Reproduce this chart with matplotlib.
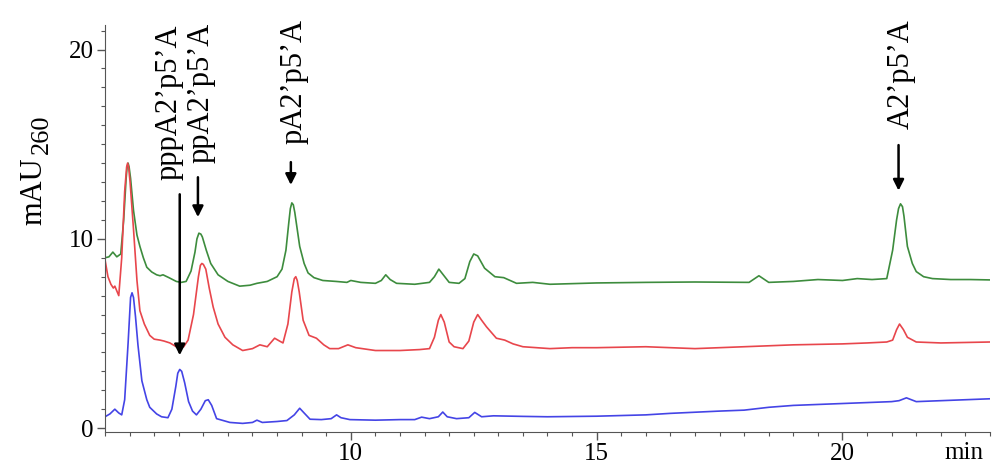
import matplotlib.pyplot as plt
from matplotlib.ticker import MultipleLocator

plt.rcParams['font.family'] = ['Liberation Serif', 'DejaVu Serif']

# (1) Traces (time in min, absorbance in mAU):

t_green = [5.0, 5.08, 5.16, 5.24, 5.32, 5.38, 5.43, 5.45, 5.47, 5.49, 5.52, 5.58, 5.65, 5.71,
           5.78, 5.85, 5.95, 6.05, 6.12, 6.18, 6.3, 6.45, 6.55, 6.65, 6.75, 6.83, 6.87, 6.91,
           6.95, 6.98, 7.06, 7.15, 7.3, 7.5, 7.74, 7.95, 8.09, 8.3, 8.5, 8.6, 8.68, 8.74, 8.77,
           8.8, 8.83, 8.86, 8.96, 9.05, 9.13, 9.25, 9.43, 9.7, 9.92, 10.0, 10.2, 10.5, 10.62,
           10.71, 10.8, 10.93, 11.3, 11.6, 11.7, 11.79, 11.88, 12.0, 12.2, 12.32, 12.42, 12.5,
           12.58, 12.72, 12.93, 13.11, 13.37, 13.7, 14.05, 15.0, 16.0, 17.0, 18.1, 18.3, 18.5,
           19.0, 19.5, 20.0, 20.3, 20.6, 20.9, 21.02, 21.1, 21.14, 21.18, 21.22, 21.25, 21.32,
           21.42, 21.5, 21.65, 21.83, 22.2, 22.6, 23.0]
y_green = [9.0, 9.05, 9.3, 9.05, 9.2, 11.0, 13.2, 13.8, 14.0, 13.8, 13.2, 11.5, 10.2, 9.6,
           9.0, 8.5, 8.25, 8.1, 8.05, 8.1, 7.95, 7.75, 7.7, 7.75, 8.3, 9.3, 10.0, 10.3,
           10.25, 10.1, 9.4, 8.7, 8.1, 7.75, 7.5, 7.55, 7.65, 7.75, 8.0, 8.4, 9.4, 10.9, 11.6,
           11.9, 11.8, 11.4, 9.6, 8.7, 8.2, 7.95, 7.8, 7.75, 7.7, 7.8, 7.7, 7.65, 7.8,
           8.1, 7.85, 7.65, 7.6, 7.7, 8.0, 8.4, 8.1, 7.7, 7.65, 7.9, 8.8, 9.2,
           9.1, 8.45, 8.0, 7.95, 7.65, 7.7, 7.6, 7.67, 7.7, 7.72, 7.7, 8.05, 7.7,
           7.75, 7.85, 7.8, 7.9, 7.85, 7.9, 9.4, 11.0, 11.6, 11.85, 11.7, 11.2, 9.6,
           8.7, 8.27, 8.0, 7.9, 7.85, 7.85, 7.83]

t_red = [5.0, 5.06, 5.12, 5.17, 5.2, 5.28, 5.34, 5.4, 5.44, 5.46, 5.48, 5.51, 5.58, 5.65, 5.71,
         5.8, 5.91, 6.0, 6.12, 6.2, 6.32, 6.45, 6.52, 6.6, 6.69, 6.8, 6.9, 6.94, 6.97, 7.0,
         7.05, 7.12, 7.2, 7.3, 7.44, 7.6, 7.8, 8.0, 8.15, 8.3, 8.45, 8.55, 8.62, 8.72, 8.8,
         8.85, 8.88, 8.91, 8.95, 9.03, 9.15, 9.3, 9.45, 9.57, 9.75, 9.94, 10.1, 10.5, 11.0,
         11.4, 11.6, 11.7, 11.78, 11.83, 11.9, 12.0, 12.1, 12.28, 12.4, 12.5, 12.58, 12.66,
         12.76, 12.96, 13.13, 13.3, 13.5, 14.05, 14.5, 15.0, 16.0, 17.0, 18.0, 19.0, 20.0,
         20.5, 20.9, 21.02, 21.1, 21.16, 21.24, 21.32, 21.5, 22.0, 23.0]
y_red = [8.9, 8.0, 7.6, 7.4, 7.5, 7.0, 9.0, 12.5, 13.8, 14.0, 13.8, 13.0, 10.5, 7.8, 6.2,
         5.5, 4.9, 4.7, 4.65, 4.6, 4.5, 4.3, 4.2, 4.3, 4.65, 6.0, 8.0, 8.6, 8.7, 8.65,
         8.4, 7.4, 6.4, 5.5, 4.8, 4.4, 4.1, 4.2, 4.4, 4.3, 4.75, 4.6, 4.5, 5.5, 7.2,
         7.9, 8.0, 7.8, 7.2, 5.7, 4.9, 4.75, 4.4, 4.2, 4.2, 4.4, 4.25, 4.1, 4.1,
         4.15, 4.2, 4.8, 5.7, 6.0, 5.6, 4.55, 4.3, 4.2, 4.6, 5.6, 6.0, 5.7,
         5.35, 4.75, 4.65, 4.45, 4.3, 4.2, 4.25, 4.25, 4.3, 4.2, 4.3, 4.4, 4.45,
         4.5, 4.55, 4.65, 5.2, 5.5, 5.2, 4.8, 4.55, 4.5, 4.55]

t_blue = [5.0, 5.1, 5.2, 5.28, 5.34, 5.4, 5.47, 5.52, 5.55, 5.58, 5.62, 5.67, 5.75, 5.85, 5.91,
          6.05, 6.15, 6.28, 6.36, 6.44, 6.48, 6.52, 6.56, 6.62, 6.7, 6.78, 6.86, 6.95, 7.04,
          7.1, 7.17, 7.27, 7.54, 7.8, 8.0, 8.09, 8.2, 8.5, 8.7, 8.85, 8.96, 9.05, 9.17, 9.4,
          9.6, 9.71, 9.8, 9.98, 10.5, 11.0, 11.3, 11.44, 11.6, 11.78, 11.87, 11.96, 12.15,
          12.4, 12.52, 12.66, 12.9, 13.5, 14.0, 15.0, 16.0, 16.5, 17.5, 18.0, 18.5, 19.0,
          19.5, 20.0, 20.5, 21.0, 21.15, 21.3, 21.4, 21.5, 22.0, 22.5, 23.0]
y_blue = [0.6, 0.75, 1.0, 0.8, 0.7, 1.5, 4.5, 6.9, 7.15, 6.9, 5.9, 4.4, 2.5, 1.5, 1.1,
          0.75, 0.6, 0.55, 1.0, 2.2, 2.9, 3.1, 3.0, 2.4, 1.4, 0.9, 0.7, 1.0, 1.45,
          1.5, 1.2, 0.5, 0.3, 0.25, 0.3, 0.42, 0.3, 0.35, 0.4, 0.7, 1.05, 0.8, 0.47, 0.45,
          0.5, 0.7, 0.55, 0.45, 0.42, 0.45, 0.45, 0.58, 0.5, 0.6, 0.85, 0.6, 0.5,
          0.55, 0.83, 0.6, 0.65, 0.62, 0.6, 0.63, 0.7, 0.78, 0.9, 0.95, 1.1, 1.2,
          1.25, 1.3, 1.35, 1.4, 1.45, 1.6, 1.5, 1.4, 1.45, 1.5, 1.55]

# (2) Peak labels: text, arrow time, arrow start/end, text position
labels = ["pppA2’p5’A", "ppA2’p5’A", "pA2’p5’A", "A2’p5’A"]
arrow_t = [6.52, 6.89, 8.78, 21.14]
arrow_top = [12.5, 13.4, 14.2, 15.1]
arrow_tip = [3.7, 11.0, 12.7, 12.4]
label_t = [6.30, 6.95, 8.84, 21.2]
label_y = [13.1, 14.0, 15.0, 15.8]

fig = plt.figure(figsize=(10, 4.71), dpi=100)
ax = fig.add_axes([0.105, 0.083, 0.885, 0.864])

ax.plot(t_green, y_green, color='#3d8c3d', lw=1.2, solid_joinstyle='round')
ax.plot(t_red, y_red, color='#e8464c', lw=1.2, solid_joinstyle='round')
ax.plot(t_blue, y_blue, color='#4444e6', lw=1.2, solid_joinstyle='round')

for i in range(len(labels)):
    ax.annotate('', xy=(arrow_t[i], arrow_tip[i]), xytext=(arrow_t[i], arrow_top[i]),
                arrowprops=dict(arrowstyle='-|>', color='black', lw=1.8, mutation_scale=16))
    ax.text(label_t[i], label_y[i], labels[i], rotation=90, ha='center', va='bottom',
            fontsize=22)

ax.set_xlim(5, 23)
ax.set_ylim(-0.2, 21.3)
ax.xaxis.set_minor_locator(MultipleLocator(0.5))
ax.yaxis.set_major_locator(MultipleLocator(10))
ax.yaxis.set_minor_locator(MultipleLocator(1))
ax.set_xticks([10, 15, 20])
ax.tick_params(which='major', length=6, width=1, labelsize=18, color='#555555')
ax.tick_params(which='minor', length=3, width=0.8, color='#555555')
ax.tick_params(axis='x', pad=2)
ax.tick_params(axis='y', pad=2)

for side in ['top', 'right']:
    ax.spines[side].set_visible(False)
for side in ['left', 'bottom']:
    ax.spines[side].set_color('#555555')

ax.text(22.48, -0.025, 'min', transform=ax.get_xaxis_transform(), ha='center', va='top',
        fontsize=18)

fig.text(0.034, 1 - 191 / 471, 'mAU', rotation=90, ha='center', va='center', fontsize=22)
fig.text(0.042, 1 - 134 / 471, '260', rotation=90, ha='center', va='center', fontsize=19)

plt.savefig('out.png')
